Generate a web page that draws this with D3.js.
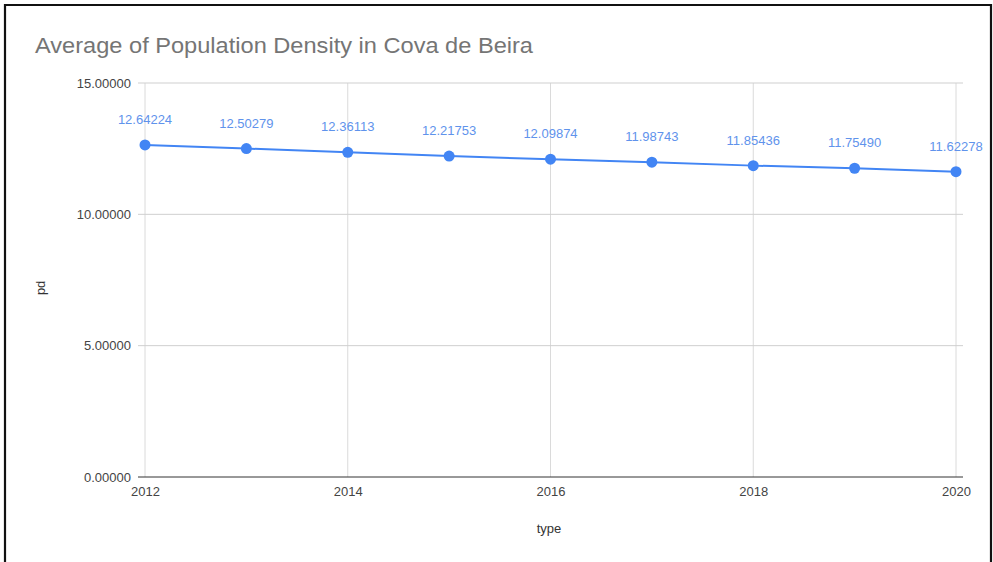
<!DOCTYPE html>
<html>
<head>
<meta charset="utf-8">
<script src="https://cdn.jsdelivr.net/npm/d3@7"></script>
<style>
  html, body { margin: 0; padding: 0; background: #fff; }
  svg { display: block; font-family: Arial, "Liberation Sans", sans-serif; }
</style>
</head>
<body>
<svg id="chart" width="993" height="562"></svg>
<script>
const years = [2012, 2013, 2014, 2015, 2016, 2017, 2018, 2019, 2020];
const values = [12.64224, 12.50279, 12.36113, 12.21753, 12.09874, 11.98743, 11.85436, 11.75490, 11.62278];
const yTicks = [0, 5, 10, 15];
const xTicks = [2012, 2014, 2016, 2018, 2020];
const titleText = "Average of Population Density in Cova de Beira";
const xTitle = "type";
const yTitle = "pd";

const svg = d3.select("#chart");
const W = 993, H = 562;
const FONT = "Arial, 'Liberation Sans', sans-serif";

// outer frame
svg.append("path")
  .attr("d", `M5,${H + 5} L5,5 L991,5 L991,${H + 5}`)
  .attr("fill", "none").attr("stroke", "#111").attr("stroke-width", 2.2);

const x = d3.scaleLinear().domain([2012, 2020]).range([145, 956]);
const y = d3.scaleLinear().domain([0, 15]).range([477, 83]);

// title
svg.append("text").attr("x", 35).attr("y", 53)
  .attr("font-size", 21.5).attr("fill", "#757575").text(titleText)
  .attr("textLength", 498).attr("lengthAdjust", "spacingAndGlyphs");

// vertical grid
svg.append("g").selectAll("line").data(xTicks).join("line")
  .attr("x1", d => x(d)).attr("x2", d => x(d))
  .attr("y1", y(15)).attr("y2", y(0))
  .attr("stroke", "#dadada").attr("stroke-width", 1);

// horizontal grid
svg.append("g").selectAll("line").data(yTicks).join("line")
  .attr("x1", 138).attr("x2", 963)
  .attr("y1", d => y(d)).attr("y2", d => y(d))
  .attr("stroke", d => d === 0 ? "#333" : "#cfcfcf").attr("stroke-width", 1);

// y axis labels via d3 axis
const yAxis = svg.append("g").attr("transform", "translate(138,0)")
  .call(d3.axisLeft(y).tickValues(yTicks).tickFormat(d3.format(".5f")).tickSize(0).tickPadding(7));
yAxis.select(".domain").remove();
yAxis.selectAll("text").attr("font-size", 13).attr("fill", "#444").attr("font-family", FONT);

// x axis labels
const xAxis = svg.append("g").attr("transform", `translate(0,${y(0)})`)
  .call(d3.axisBottom(x).tickValues(xTicks).tickFormat(d3.format("d")).tickSize(0).tickPadding(10));
xAxis.select(".domain").remove();
xAxis.selectAll("text").attr("font-size", 13).attr("fill", "#444").attr("font-family", FONT);

// axis titles
svg.append("text").attr("x", 549).attr("y", 533).attr("text-anchor", "middle")
  .attr("font-size", 13).attr("fill", "#333").text(xTitle);
svg.append("text").attr("transform", `translate(45,${y(7.2)}) rotate(-90)`)
  .attr("text-anchor", "middle").attr("font-size", 13).attr("fill", "#333").text(yTitle);

const data = years.map((yr, i) => ({ yr, v: values[i] }));

// line
svg.append("path").datum(data)
  .attr("fill", "none").attr("stroke", "#4285f4").attr("stroke-width", 2)
  .attr("d", d3.line().x(d => x(d.yr)).y(d => y(d.v)));

// points
svg.append("g").selectAll("circle").data(data).join("circle")
  .attr("cx", d => x(d.yr)).attr("cy", d => y(d.v)).attr("r", 5.5)
  .attr("fill", "#4285f4");

// data labels
svg.append("g").selectAll("text").data(data).join("text")
  .attr("x", d => x(d.yr)).attr("y", d => y(d.v) - 21)
  .attr("text-anchor", "middle").attr("font-size", 13).attr("fill", "#5f93ec")
  .text(d => d3.format(".5f")(d.v));
</script>
</body>
</html>
